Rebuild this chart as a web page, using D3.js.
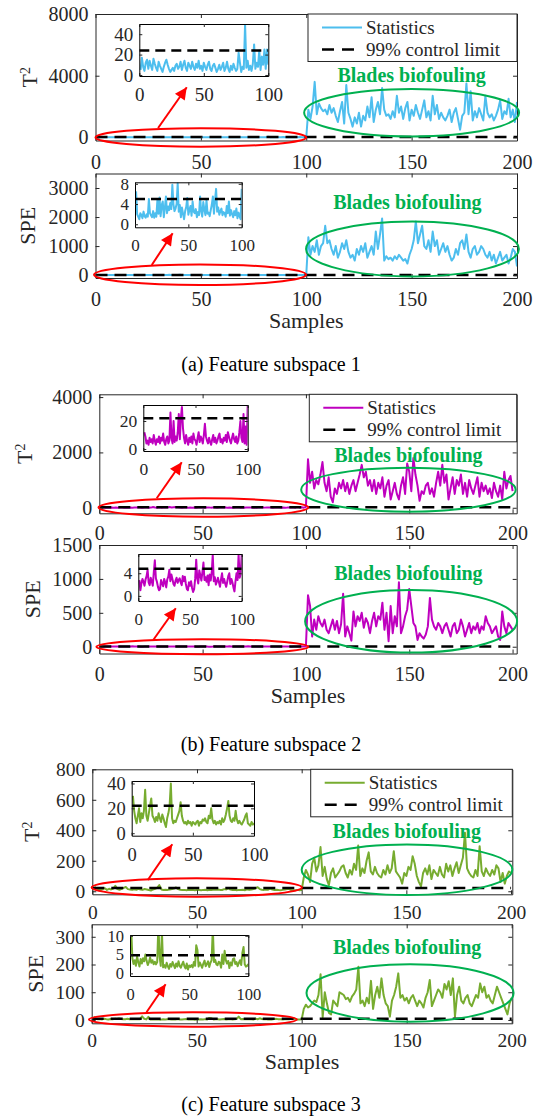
<!DOCTYPE html>
<html>
<head>
<meta charset="utf-8">
<script src="https://cdn.jsdelivr.net/npm/d3@7"></script>
<style>
body { margin: 0; background: #fff; }
svg { display: block; }
svg text { font-family: "Liberation Serif", "Times New Roman", serif !important; }
</style>
</head>
<body>
<script>
// ---- data (samples 1..100 normal, 101..200 biofouling) ----
var t2Normal1 = [
  5,17,8,4,12,15,6,14,9,5,
  16,11,7,4,13,9,6,3,8,12,
  15,10,6,3,5,7,4,9,11,6,
  8,13,5,10,14,7,4,12,9,6,
  13,8,5,11,7,14,6,9,4,12,
  8,5,10,13,6,4,9,11,7,3,
  6,10,5,8,12,4,7,13,6,3,
  9,5,11,7,4,6,22,12,3,8,
  6,50,7,14,5,9,4,11,30,6,
  12,8,24,5,18,10,25,6,25,10];
var t2Fault1 = [
  1800,1200,2000,3600,1500,2200,1900,1700,1800,1500,
  2100,1600,1900,1400,1000,1700,2300,900,3400,1600,
  1200,700,1300,900,1600,700,1400,1100,2000,1300,
  2600,1000,1800,2300,1500,3200,1800,1400,1500,1200,
  1700,1300,2700,1600,2000,1200,1900,2300,1100,1800,
  1400,2100,1600,1200,1800,2400,1300,1700,1100,2700,
  1500,2100,1200,1600,1300,1100,1400,1800,1000,1600,
  1900,1200,500,1400,1600,3500,1500,3000,1100,1700,
  1300,1900,1500,1100,2700,1600,1300,1500,1100,1400,
  1800,2400,1200,1700,1500,2500,1300,1800,1000,2300];
var speNormal1 = [
  6.5,2.0,1.5,1.0,2.2,1.8,1.2,2.5,1.6,1.3,
  2.0,1.5,5.0,2.2,1.8,1.4,2.6,1.3,2.2,1.5,
  4.8,2.1,5.3,1.6,3.8,4.5,1.4,3.2,5.5,2.2,
  3.5,2.8,4.2,3.0,7.8,4.0,2.6,3.1,4.0,8.1,
  2.5,3.8,1.4,3.3,2.1,1.0,2.6,3.4,5.2,1.9,
  2.8,3.6,1.7,4.5,2.5,2.2,3.0,1.4,2.4,1.8,
  5.5,2.6,1.5,4.4,2.9,1.8,4.8,2.1,2.3,1.6,
  2.8,3.9,5.5,2.1,4.8,7.0,2.5,3.3,1.9,2.6,
  3.1,1.8,2.4,2.2,1.5,3.6,2.2,4.5,1.7,2.8,
  2.0,1.4,2.6,1.8,3.1,1.2,2.3,1.6,1.0,7.0];
var speFault1 = [
  1300,700,1000,800,1200,700,1000,1100,1700,1100,
  1200,900,700,1000,600,800,1100,900,1200,800,
  600,700,500,900,700,1000,800,1100,600,800,
  1000,700,1500,900,1400,1950,500,650,550,600,
  500,650,550,700,600,500,550,400,700,900,
  1200,1850,1100,1400,1700,1000,900,1200,800,1500,
  1000,1200,700,900,1100,800,1000,700,500,600,
  900,700,1100,1200,900,1400,800,600,900,1000,
  700,800,1000,900,700,600,800,500,700,400,
  600,800,500,600,700,400,600,900,800,300];

var t2Normal2 = [
  12,9,4,6,3,8,5,7,4,10,
  6,3,7,5,9,4,8,6,11,5,
  3,7,9,4,6,26,8,4,20,5,
  9,6,12,25,7,22,30,15,8,4,
  10,6,3,8,5,9,4,11,7,6,
  3,8,12,5,9,7,4,10,18,9,
  6,4,8,5,3,7,10,5,8,4,
  6,9,11,5,7,4,8,6,10,5,
  12,9,6,4,8,11,7,5,9,4,
  6,12,20,8,5,25,4,16,3,31];
var t2Fault2 = [
  1750,900,1300,700,1000,850,1200,1650,900,600,
  1100,400,200,700,500,900,700,1000,600,900,
  500,800,1000,600,900,1200,1550,1100,1300,800,
  1000,600,1000,500,900,700,1100,400,800,1000,
  300,600,900,500,300,800,1100,500,1600,1300,
  600,1800,1200,800,250,600,500,800,900,500,
  700,400,900,1300,800,1550,900,1200,300,700,
  1100,500,1000,800,1200,500,900,400,1000,700,
  500,800,1100,400,900,600,800,500,700,350,
  900,600,400,800,300,1300,700,1000,1150,600];
var speNormal2 = [
  2.8,1.0,2.2,3.0,2.5,1.8,2.9,3.5,4.6,2.4,
  1.9,3.2,2.6,1.8,4.2,6.3,3.1,2.5,1.6,1.0,
  1.2,2.8,2.2,1.7,3.0,2.4,1.5,2.9,3.4,4.6,
  2.6,3.8,3.0,2.1,1.8,2.7,3.2,2.3,2.8,3.1,
  2.4,1.9,3.5,2.6,3.4,2.1,1.2,1.0,2.4,1.8,
  2.6,1.4,0.7,1.2,3.0,6.4,3.1,2.2,4.5,3.6,
  2.7,4.2,5.9,2.8,3.3,2.5,3.6,1.9,3.8,2.7,
  4.1,7.3,2.6,3.3,2.0,2.5,3.2,2.4,1.6,2.9,
  4.0,2.3,3.0,2.2,1.6,2.5,3.5,4.0,2.1,3.0,
  2.4,1.5,0.8,2.6,4.0,2.8,7.3,3.2,3.8,7.3];
var speFault2 = [
  760,600,150,400,250,450,350,300,400,250,
  200,300,400,250,380,200,330,780,150,300,
  200,90,520,300,450,380,500,280,420,350,
  200,380,500,300,450,400,650,250,500,80,
  600,200,450,300,950,200,300,450,550,850,
  600,350,300,100,200,150,120,180,300,720,
  400,300,250,350,300,200,300,350,250,150,
  300,350,200,250,400,300,150,250,350,200,
  300,250,350,200,300,250,450,350,300,200,
  250,300,150,100,520,300,200,350,300,250];

var t2Normal3 = [
  30,18,12,8,14,20,9,16,12,18,
  35,14,10,16,22,28,14,12,9,13,
  10,16,12,9,15,12,8,5,12,16,
  22,40,12,8,10,9,12,15,18,25,
  14,10,8,9,7,10,8,9,6,9,
  8,7,9,10,6,9,8,11,10,12,
  9,8,14,12,20,11,8,10,7,9,
  8,10,7,12,9,11,15,20,26,14,
  10,9,12,10,18,11,8,10,8,7,
  9,11,14,16,8,7,6,9,7,8];
var t2Fault3 = [
  90,140,110,60,180,220,130,170,290,100,
  160,80,40,120,150,90,110,130,160,170,
  120,90,140,110,180,140,300,100,150,120,
  200,255,130,110,160,120,100,90,140,110,
  170,120,150,263,130,110,90,50,120,100,
  160,140,230,180,100,60,33,120,150,110,
  170,80,140,120,100,160,110,90,180,130,
  170,100,150,190,120,170,220,384,150,120,
  100,90,140,100,296,130,100,150,120,100,
  140,110,170,150,60,120,50,100,130,120];
var speNormal3 = [
  12,4,2.5,3.5,2,4.5,3,1.8,3.8,2.6,
  4,3.2,5,3.4,2.2,3,4.2,2.8,3.5,2.4,
  3.1,2.4,3.0,13,4.5,2,11,1.6,2.2,1.5,
  2.8,1.9,1.2,2.5,1.8,3,2.2,1.4,2.6,1.8,
  3.2,2,1.5,2.4,3.1,1.9,1.3,2.6,1.0,2.1,
  1.7,2.2,1.6,3,2,7.5,6.2,1.8,2.9,2.2,
  1.5,2.6,3.4,1.9,2.5,3.2,1.7,2.8,3.5,12,
  3,3.6,2.4,2.2,3.1,2.8,1.5,5,2.5,6,
  3.5,2.6,3.3,1.4,2.9,2.1,3.8,4,2.5,3,
  1.9,2.8,3.5,2.2,5.5,7,2.4,1.8,2,2.5];
var speFault3 = [
  40,55,45,50,60,70,65,90,165,10,
  100,60,25,20,70,60,50,100,95,90,
  75,80,66,85,95,110,192,60,70,50,
  80,60,141,40,90,120,80,150,90,60,
  50,12,70,90,120,168,80,90,70,80,
  60,80,90,70,50,70,60,45,80,100,
  144,50,70,90,110,100,80,130,110,140,
  90,150,12,90,120,70,60,80,90,60,
  50,70,90,80,132,100,120,80,90,70,
  60,90,120,100,80,60,40,20,60,80];

var t2Limits  = [24, 22, 22];
var speLimits = [5, 4.8, 4.8];
var seriesColors = ["#4DBEEE", "#BF00BF", "#77AC30"];

var mainXTicks  = [0, 50, 100, 150, 200];
var insetXTicks = [0, 50, 100];
var t2Ticks1  = [0, 4000, 8000];
var speTicks1 = [0, 1000, 2000, 3000];
var t2Ticks2  = [0, 2000, 4000];
var speTicks2 = [0, 500, 1000, 1500];
var t2Ticks3  = [0, 200, 400, 600, 800];
var speTicks3 = [0, 100, 200, 300];
var insT2Ticks1 = [0, 20, 40], insSpeTicks1 = [0, 4, 8];
var insT2Ticks2 = [0, 20],     insSpeTicks2 = [0, 4];
var insT2Ticks3 = [0, 20, 40], insSpeTicks3 = [0, 5, 10];

var legendLabels = ["Statistics", "99% control limit"];
var noteText = "Blades biofouling";
var captions = ["(a) Feature subspace 1", "(b) Feature subspace 2", "(c) Feature subspace 3"];

var sampleIndex = d3.range(1, 201);

// ---- layout ----
var AX = "#262626", RED = "#FF0000", GREEN = "#00B050";

var panels = [
  { stat: t2Normal1.concat(t2Fault1), limit: t2Limits[0], color: seriesColors[0], kind: "T2",
    box: [95.5, 517, 14, 140.5], xMax: 200, yDom: [-200, 8000], yTicks: t2Ticks1, font: 20, xPad: 14.5,
    inset: { box: [139.3, 268.3, 24, 76], yDom: [-1, 50], yTicks: insT2Ticks1, font: 19 },
    red: [50, 0, 50, 600], green: [150, 1600, 51, 1540], arrow: [29.7, 610, 43.3, 3250],
    note: [150, 3610], legendW: 209, ylabX: 30 },
  { stat: speNormal1.concat(speFault1), limit: speLimits[0], color: seriesColors[0], kind: "SPE",
    box: [95.5, 517, 173.5, 278], xMax: 200, yDom: [-100, 3500], yTicks: speTicks1, font: 20, xPad: 13.5,
    inset: { box: [135, 241.7, 182.3, 227.3], yDom: [-0.6, 8.3], yTicks: insSpeTicks1, font: 17 },
    red: [49.6, 14, 50.3, 355], green: [150.4, 901, 50.5, 947], arrow: [26.7, 347, 36.6, 1440],
    note: [148, 2267], samplesY: 328, ylabX: 28, caption: [271, 371, captions[0]] },
  { stat: t2Normal2.concat(t2Fault2), limit: t2Limits[1], color: seriesColors[1], kind: "T2",
    box: [99.3, 516.7, 394.3, 513.3], xMax: 202, yDom: [-200, 4100], yTicks: t2Ticks2, font: 20, xPad: 13,
    inset: { box: [143.3, 247.7, 405, 451], yDom: [-1.4, 31.4], yTicks: insT2Ticks2, font: 17.5 },
    red: [50.4, 10, 50.8, 332], green: [149.6, 653, 51.9, 795], arrow: [27.8, 342, 39.9, 1643],
    note: [149.6, 1643], legendW: 207.4, ylabX: 25 },
  { stat: speNormal2.concat(speFault2), limit: speLimits[1], color: seriesColors[1], kind: "SPE",
    box: [99.3, 516.7, 545, 653.5], xMax: 202, yDom: [-100, 1500], yTicks: speTicks2, font: 20, xPad: 13,
    inset: { box: [138.3, 241.7, 554, 601], yDom: [-0.9, 7.4], yTicks: insSpeTicks2, font: 17 },
    red: [49.9, 0, 51.3, 111], green: [150.9, 375, 51.3, 462], arrow: [26.1, 99, 37, 567],
    note: [149.6, 984], samplesY: 703, ylabX: 33, caption: [271, 751, captions[1]] },
  { stat: t2Normal3.concat(t2Fault3), limit: t2Limits[2], color: seriesColors[2], kind: "T2",
    box: [92.3, 512.3, 769.3, 894.3], xMax: 200.6, yDom: [-20, 800], yTicks: t2Ticks3, font: 19.5, xPad: 11,
    inset: { box: [131.7, 254, 781, 835.7], yDom: [-2, 42], yTicks: insT2Ticks3, font: 18.5 },
    red: [49.9, 24.6, 50.2, 60], green: [150.3, 141, 50.3, 166], arrow: [26.5, 74, 38.2, 308],
    note: [150.2, 347], legendW: 201.6, ylabX: 32 },
  { stat: speNormal3.concat(speFault3), limit: speLimits[2], color: seriesColors[2], kind: "SPE",
    box: [91.7, 512.3, 924.3, 1023.3], xMax: 200.3, yDom: [-12, 345], yTicks: speTicks3, font: 19.5, xPad: 10,
    inset: { box: [130, 248.3, 935, 976], yDom: [-0.7, 10.2], yTicks: insSpeTicks3, font: 16.5 },
    red: [48.2, 1.7, 49.5, 26], green: [151.6, 97, 49.3, 103.5], arrow: [26.1, 27.7, 35.2, 128.6],
    note: [150.2, 237], samplesY: 1069, ylabX: 36, caption: [271, 1111, captions[2]] }
];

var svg = d3.select("body").append("svg").attr("width", 542).attr("height", 1117)
  .attr("font-family", "Liberation Serif, serif");
var defs = svg.append("defs");
defs.append("marker")
  .attr("id", "arrowRed")
  .attr("viewBox", "0 0 10 10")
  .attr("refX", 10).attr("refY", 5)
  .attr("markerUnits", "userSpaceOnUse")
  .attr("markerWidth", 14).attr("markerHeight", 12)
  .attr("orient", "auto")
  .append("path").attr("d", "M0,0 L10,5 L0,10 z").attr("fill", RED);

var fmt = d3.format("d");

function styleAxis(g, size) {
  g.attr("font-family", null).attr("font-size", null);
  g.selectAll(".domain").attr("stroke", AX).attr("stroke-width", 1);
  g.selectAll(".tick line").attr("stroke", AX).attr("stroke-width", 1);
  g.selectAll(".tick text").attr("fill", AX).style("font-size", size + "px");
}

function boxAxes(g, x, y, xTicks, yTicks, size, tl, padX, padY) {
  var r = x.range(), ry = y.range();
  g.append("g").attr("transform", "translate(0," + ry[0] + ")")
    .call(d3.axisBottom(x).tickValues(xTicks).tickFormat(fmt).tickSizeInner(-tl).tickSizeOuter(0).tickPadding(padX))
    .call(styleAxis, size);
  g.append("g").attr("transform", "translate(0," + ry[1] + ")")
    .call(d3.axisTop(x).tickValues(xTicks).tickFormat("").tickSizeInner(-tl).tickSizeOuter(0))
    .call(styleAxis, size);
  g.append("g").attr("transform", "translate(" + r[0] + ",0)")
    .call(d3.axisLeft(y).tickValues(yTicks).tickFormat(fmt).tickSizeInner(-tl).tickSizeOuter(0).tickPadding(padY))
    .call(styleAxis, size);
  g.append("g").attr("transform", "translate(" + r[1] + ",0)")
    .call(d3.axisRight(y).tickValues(yTicks).tickFormat("").tickSizeInner(-tl).tickSizeOuter(0))
    .call(styleAxis, size);
}

panels.forEach(function(p, k) {
  var g = svg.append("g");
  var x = d3.scaleLinear().domain([0, p.xMax]).range([p.box[0], p.box[1]]);
  var y = d3.scaleLinear().domain(p.yDom).range([p.box[3], p.box[2]]);

  var clipId = "clip" + k;
  defs.append("clipPath").attr("id", clipId).append("rect")
    .attr("x", p.box[0]).attr("y", p.box[2])
    .attr("width", p.box[1] - p.box[0]).attr("height", p.box[3] - p.box[2]);

  var line = d3.line().x(function(d, i) { return x(sampleIndex[i]); }).y(function(d) { return y(d); });
  var plot = g.append("g").attr("clip-path", "url(#" + clipId + ")");
  plot.append("path").datum(p.stat)
    .attr("fill", "none").attr("stroke", p.color).attr("stroke-width", 2)
    .attr("stroke-linejoin", "round").attr("d", line);
  plot.append("line")
    .attr("x1", x(0)).attr("x2", x(200)).attr("y1", y(p.limit)).attr("y2", y(p.limit))
    .attr("stroke", "#000").attr("stroke-width", 2.5).attr("stroke-dasharray", "12,7");

  boxAxes(g, x, y, mainXTicks, p.yTicks, p.font, 4, p.xPad, 7);

  // red and green ellipses
  [[p.red, RED], [p.green, GREEN]].forEach(function(e) {
    var c = e[0];
    g.append("ellipse")
      .attr("cx", x(c[0])).attr("cy", y(c[1]))
      .attr("rx", x(c[0] + c[2]) - x(c[0])).attr("ry", y(c[1] - c[3]) - y(c[1]))
      .attr("fill", "none").attr("stroke", e[1]).attr("stroke-width", 2);
  });

  g.append("text")
    .attr("x", x(p.note[0])).attr("y", y(p.note[1]))
    .attr("text-anchor", "middle").attr("font-weight", "bold")
    .attr("fill", GREEN).style("font-size", "20px").text(noteText);

  // legend
  if (p.legendW) {
    var lg = g.append("g").attr("transform", "translate(" + (p.box[1] - p.legendW) + "," + p.box[2] + ")");
    lg.append("rect").attr("width", p.legendW).attr("height", 47.5)
      .attr("fill", "#fff").attr("stroke", AX).attr("stroke-width", 1);
    [13.5, 35.5].forEach(function(yy, j) {
      lg.append("line").attr("x1", 14).attr("x2", 54).attr("y1", yy).attr("y2", yy)
        .attr("stroke", j === 0 ? p.color : "#000")
        .attr("stroke-width", j === 0 ? 2 : 2.5)
        .attr("stroke-dasharray", j === 0 ? null : "12,8");
      lg.append("text").attr("x", 58).attr("y", yy).attr("dy", "0.35em")
        .attr("fill", AX).style("font-size", "19px").text(legendLabels[j]);
    });
  }

  // inset with the first 100 samples
  var ib = p.inset.box;
  var xi = d3.scaleLinear().domain([0, 100]).range([ib[0], ib[1]]);
  var yi = d3.scaleLinear().domain(p.inset.yDom).range([ib[3], ib[2]]);
  var ig = g.append("g");
  ig.append("rect").attr("x", ib[0]).attr("y", ib[2])
    .attr("width", ib[1] - ib[0]).attr("height", ib[3] - ib[2]).attr("fill", "#fff");
  var iclip = "iclip" + k;
  defs.append("clipPath").attr("id", iclip).append("rect")
    .attr("x", ib[0]).attr("y", ib[2]).attr("width", ib[1] - ib[0]).attr("height", ib[3] - ib[2]);
  var iline = d3.line().x(function(d, i) { return xi(sampleIndex[i]); }).y(function(d) { return yi(d); });
  var ip = ig.append("g").attr("clip-path", "url(#" + iclip + ")");
  ip.append("path").datum(p.stat.slice(0, 100))
    .attr("fill", "none").attr("stroke", p.color).attr("stroke-width", 2)
    .attr("stroke-linejoin", "round").attr("d", iline);
  ip.append("line")
    .attr("x1", xi(0)).attr("x2", xi(100)).attr("y1", yi(p.limit)).attr("y2", yi(p.limit))
    .attr("stroke", "#000").attr("stroke-width", 2.5).attr("stroke-dasharray", "10,6");
  boxAxes(ig, xi, yi, insetXTicks, p.inset.yTicks, p.inset.font, 3, 12, 6);
  ig.selectAll(".domain").attr("stroke", "#000");

  // red arrow from the ellipse to the inset
  g.append("line")
    .attr("x1", x(p.arrow[0])).attr("y1", y(p.arrow[1]))
    .attr("x2", x(p.arrow[2])).attr("y2", y(p.arrow[3]))
    .attr("stroke", RED).attr("stroke-width", 2).attr("marker-end", "url(#arrowRed)");

  // y label
  var cy = (p.box[2] + p.box[3]) / 2;
  var yl = g.append("text")
    .attr("transform", "translate(" + p.ylabX + "," + cy + ") rotate(-90)")
    .attr("text-anchor", "middle").attr("dy", "0.33em")
    .attr("fill", AX).style("font-size", "22px");
  if (p.kind === "T2") {
    yl.append("tspan").text("T");
    yl.append("tspan").attr("baseline-shift", "super").style("font-size", "14px").text("2");
  } else {
    yl.text("SPE");
  }

  if (p.samplesY) {
    g.append("text").attr("x", (p.box[0] + p.box[1]) / 2).attr("y", p.samplesY)
      .attr("text-anchor", "middle").attr("fill", AX).style("font-size", "22px").text("Samples");
  }
  if (p.caption) {
    svg.append("text").attr("x", p.caption[0]).attr("y", p.caption[1])
      .attr("text-anchor", "middle").attr("fill", "#000").style("font-size", "20px").text(p.caption[2]);
  }
});
</script>
</body>
</html>
